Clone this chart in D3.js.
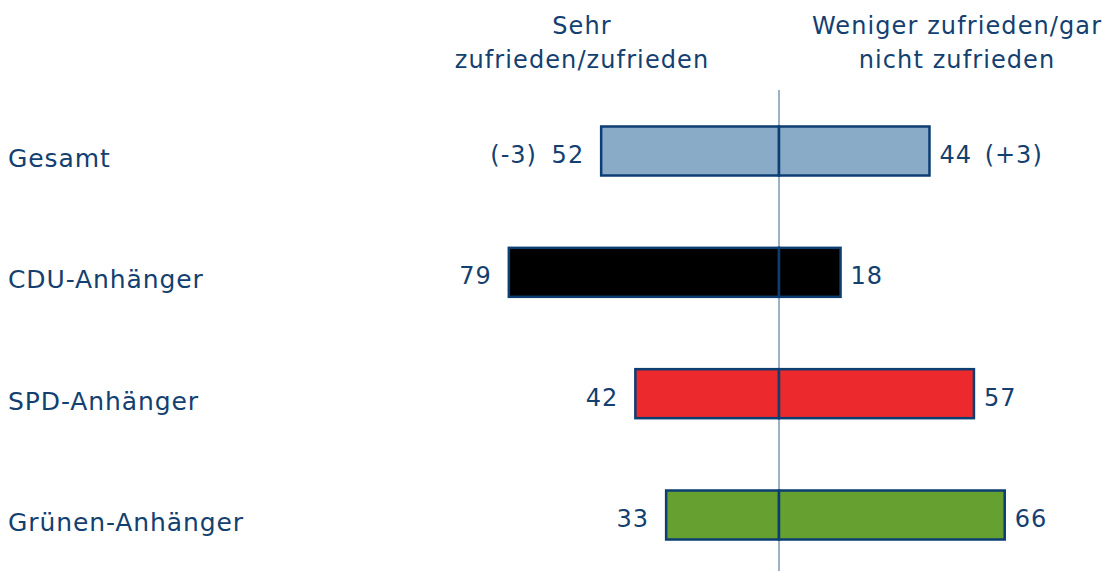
<!DOCTYPE html>
<html>
<head>
<meta charset="utf-8">
<script src="https://cdn.jsdelivr.net/npm/d3@7"></script>
<style>
  body { margin: 0; background: #fff; }
  text { font-family: "DejaVu Sans", Verdana, sans-serif; fill: #13406f; }
</style>
</head>
<body>
<script>
var categories = ["Gesamt", "CDU-Anhänger", "SPD-Anhänger", "Grünen-Anhänger"];
var zufrieden = [52, 79, 42, 33];
var unzufrieden = [44, 18, 57, 66];
var leftLabels = ["(-3) 52", "79", "42", "33"];
var rightLabels = ["44 (+3)", "18", "57", "66"];
var barColors = ["#8aabc8", "#000000", "#ec2a2e", "#65a030"];

var svg = d3.select("body").append("svg")
  .attr("width", 1109)
  .attr("height", 571);

var cx = 779;
var x = d3.scaleLinear().domain([0, 100]).range([0, 342]);
var y = d3.scalePoint().domain(categories).range([151, 515]);
var barH = 49;

// headers
var head = svg.append("g").attr("font-size", 24).attr("letter-spacing", 1.1);
head.append("text").attr("x", 582).attr("y", 34).attr("text-anchor", "middle").text("Sehr");
head.append("text").attr("x", 582).attr("y", 68).attr("text-anchor", "middle").text("zufrieden/zufrieden");
head.append("text").attr("x", 957).attr("y", 34).attr("text-anchor", "middle").text("Weniger zufrieden/gar");
head.append("text").attr("x", 957).attr("y", 68).attr("text-anchor", "middle").text("nicht zufrieden");

// center line behind the bars
svg.append("line")
  .attr("x1", cx).attr("x2", cx)
  .attr("y1", 90).attr("y2", 571)
  .attr("stroke", "#7f97b5").attr("stroke-width", 1.5);

var rows = svg.selectAll("g.row").data(categories).enter().append("g")
  .attr("class", "row")
  .attr("transform", function(d) { return "translate(0," + y(d) + ")"; });

rows.append("text")
  .attr("x", 8).attr("y", 16)
  .attr("font-size", 25).attr("letter-spacing", 0.9)
  .text(function(d) { return d; });

rows.append("rect")
  .attr("x", function(d, i) { return cx - x(zufrieden[i]); })
  .attr("y", -barH / 2)
  .attr("width", function(d, i) { return x(zufrieden[i]); })
  .attr("height", barH)
  .attr("fill", function(d, i) { return barColors[i]; })
  .attr("stroke", "#0c3e72").attr("stroke-width", 2.5);

rows.append("rect")
  .attr("x", cx)
  .attr("y", -barH / 2)
  .attr("width", function(d, i) { return x(unzufrieden[i]); })
  .attr("height", barH)
  .attr("fill", function(d, i) { return barColors[i]; })
  .attr("stroke", "#0c3e72").attr("stroke-width", 2.5);

rows.append("text")
  .attr("x", function(d, i) { return cx - x(zufrieden[i]) - 17; })
  .attr("y", 12)
  .attr("text-anchor", "end")
  .attr("font-size", 24).attr("letter-spacing", 1).attr("word-spacing", 6)
  .text(function(d, i) { return leftLabels[i]; });

rows.append("text")
  .attr("x", function(d, i) { return cx + x(unzufrieden[i]) + 10; })
  .attr("y", 12)
  .attr("font-size", 24).attr("letter-spacing", 1).attr("word-spacing", 4)
  .text(function(d, i) { return rightLabels[i]; });
</script>
</body>
</html>
